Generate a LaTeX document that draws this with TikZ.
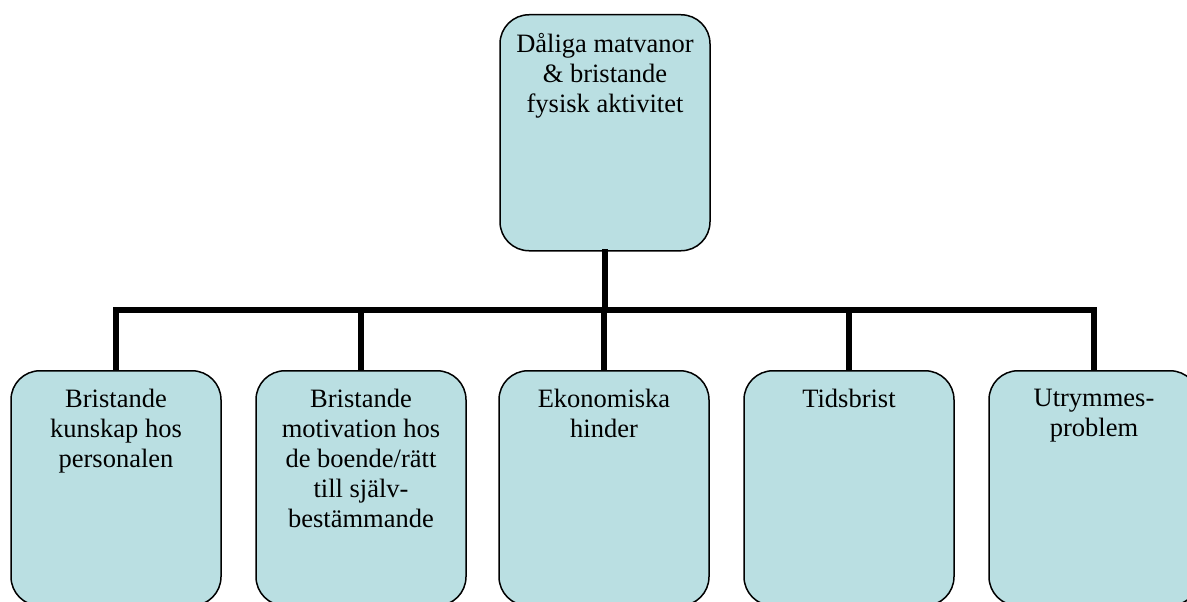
\documentclass[tikz,border=0pt]{standalone}
\usepackage{fontspec}
\setmainfont{Liberation Serif}
\usetikzlibrary{positioning}

\definecolor{boxblue}{RGB}{186,223,226}

\tikzset{
  box/.style={draw=black, line width=1.5pt, fill=boxblue, rounded corners=29pt,
    minimum width=210pt, minimum height=235pt, anchor=north, inner sep=0pt},
  boxtext/.style={anchor=north, align=center, inner sep=0pt,
    font=\fontsize{26.5}{30}\selectfont},
  conn/.style={line width=6pt, line cap=rect}
}

\begin{document}
\begin{tikzpicture}[x=1pt, y=-1pt]
	\useasboundingbox (0,0) rectangle (1187,602);
	% top box
	\node[box, minimum height=236pt] (top) at (605,14) {};
	\node[boxtext] (toptext) at ([yshift=-19pt]top.north) {D\aa liga matvanor\\\& bristande\\fysisk aktivitet};
	% bottom row
	\node[box] (kunskap) at (116,370) {};
	\node[box] (motivation) at (361,370) {};
	\node[box] (ekonomi) at (604,370) {};
	\node[box] (tid) at (849,370) {};
	\node[box] (utrymme) at (1094,370) {};
	\node[boxtext] (kunskaptext) at ([yshift=-19pt]kunskap.north) {Bristande\\kunskap hos\\personalen};
	\node[boxtext] (motivationtext) at ([yshift=-19pt]motivation.north) {Bristande\\motivation hos\\de boende/rätt\\till själv-\\bestämmande};
	\node[boxtext] (ekonomitext) at ([yshift=-19pt]ekonomi.north) {Ekonomiska\\hinder};
	\node[boxtext] (tidtext) at ([yshift=-19pt]tid.north) {Tidsbrist};
	\node[boxtext] (utrymmetext) at ([yshift=-19pt]utrymme.north) {Utrymmes-\\problem};
	% connectors
	\coordinate (bar) at (605,310);
	\draw[conn] (top.south) -- (bar);
	\foreach \b in {kunskap, motivation, ekonomi, tid, utrymme}
		\draw[conn, line cap=butt] (\b.north) |- (bar);
\end{tikzpicture}
\end{document}
